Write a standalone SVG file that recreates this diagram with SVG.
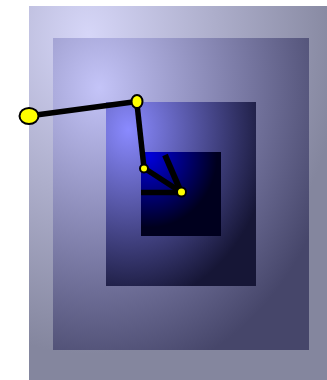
<svg xmlns="http://www.w3.org/2000/svg" width="327" height="380" viewBox="0 0 327 380">
  <defs>
    <radialGradient id="g1" cx="0.2" cy="0.08" r="0.85">
      <stop offset="0" stop-color="#d6d6f8"/>
      <stop offset="1" stop-color="#84869e"/>
    </radialGradient>
    <radialGradient id="g2" cx="0.18" cy="0.16" r="0.95">
      <stop offset="0" stop-color="#c4c4f8"/>
      <stop offset="1" stop-color="#46466a"/>
    </radialGradient>
    <radialGradient id="g3" cx="0.15" cy="0.15" r="0.95">
      <stop offset="0" stop-color="#8a8aff"/>
      <stop offset="1" stop-color="#161636"/>
    </radialGradient>
    <radialGradient id="g4" cx="0.1" cy="0.05" r="0.85">
      <stop offset="0" stop-color="#0000dc"/>
      <stop offset="1" stop-color="#00001e"/>
    </radialGradient>
  </defs>
  <style>
    .conn { stroke: #000; stroke-width: 5.5; fill: none; }
    .node { fill: #ffff00; stroke: #000; stroke-width: 2; }
  </style>
  <g id="background">
    <rect x="29" y="6" width="298" height="374" fill="url(#g1)"/>
    <rect x="53" y="38" width="256" height="312" fill="url(#g2)"/>
    <rect x="106" y="102" width="150" height="184" fill="url(#g3)"/>
    <rect x="141" y="152" width="80" height="84" fill="url(#g4)"/>
  </g>
  <g id="connectors">
    <line class="conn" x1="36" y1="115" x2="133" y2="102"/>
    <line class="conn" x1="137" y1="104" x2="144" y2="168"/>
    <line class="conn" x1="144" y1="168" x2="181" y2="192"/>
    <line class="conn" x1="165" y1="155" x2="181" y2="192" style="stroke-width:6"/>
    <line class="conn" x1="141" y1="192.5" x2="181" y2="192.5"/>
  </g>
  <g id="node1"><ellipse class="node" cx="29" cy="116" rx="9.5" ry="8"/></g>
  <g id="node2"><ellipse class="node" cx="137" cy="101.5" rx="5.5" ry="6.5"/></g>
  <g id="node3"><circle class="node" cx="144" cy="168.5" r="4"/></g>
  <g id="node4"><circle class="node" cx="181.5" cy="192" r="4.5"/></g>
</svg>
